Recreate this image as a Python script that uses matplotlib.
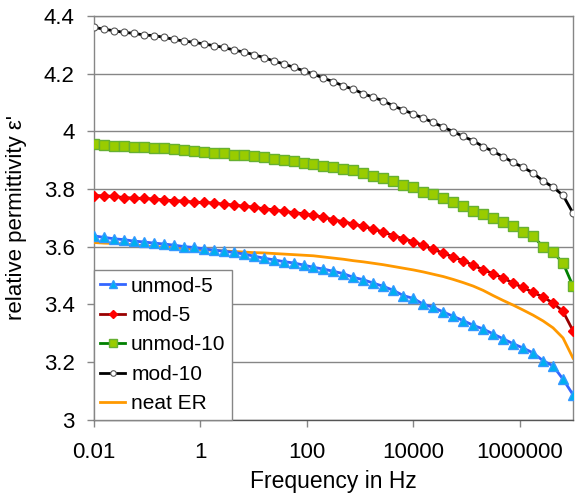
import matplotlib
matplotlib.use("Agg")
import matplotlib.pyplot as plt

plt.rcParams["font.family"] = ["Liberation Sans", "DejaVu Sans"]

# sweep frequencies (Hz), 0.01 Hz .. 10 MHz
freq_hz = [
    0.01, 0.0154, 0.0237, 0.0365, 0.0562, 0.0866, 0.133, 0.205,
    0.316, 0.487, 0.750, 1.15, 1.78, 2.74, 4.22, 6.49,
    10, 15.4, 23.7, 36.5, 56.2, 86.6, 133, 205,
    316, 487, 750, 1150, 1780, 2740, 4220, 6490,
    1e4, 1.54e4, 2.37e4, 3.65e4, 5.62e4, 8.66e4, 1.33e5, 2.05e5,
    3.16e5, 4.87e5, 7.50e5, 1.15e6, 1.78e6, 2.74e6, 4.22e6, 6.49e6,
    1e7,
]

unmod_5 = [
    3.637, 3.632, 3.627, 3.624, 3.619, 3.616, 3.612, 3.609,
    3.605, 3.600, 3.597, 3.592, 3.588, 3.584, 3.580, 3.574,
    3.567, 3.560, 3.554, 3.548, 3.543, 3.536, 3.528, 3.522,
    3.514, 3.506, 3.493, 3.485, 3.473, 3.462, 3.448, 3.430,
    3.420, 3.400, 3.389, 3.373, 3.358, 3.343, 3.327, 3.314,
    3.297, 3.280, 3.263, 3.248, 3.231, 3.204, 3.186, 3.140,
    3.086,
]
mod_5 = [
    3.777, 3.776, 3.774, 3.770, 3.768, 3.767, 3.765, 3.762,
    3.759, 3.758, 3.754, 3.753, 3.751, 3.747, 3.744, 3.740,
    3.737, 3.731, 3.728, 3.722, 3.718, 3.714, 3.708, 3.702,
    3.693, 3.686, 3.678, 3.670, 3.661, 3.650, 3.638, 3.627,
    3.617, 3.604, 3.591, 3.577, 3.564, 3.551, 3.535, 3.520,
    3.506, 3.491, 3.473, 3.458, 3.441, 3.425, 3.404, 3.375,
    3.308,
]
unmod_10 = [
    3.956, 3.953, 3.950, 3.950, 3.947, 3.945, 3.941, 3.941,
    3.938, 3.934, 3.932, 3.929, 3.926, 3.923, 3.919, 3.916,
    3.913, 3.911, 3.905, 3.902, 3.897, 3.891, 3.887, 3.881,
    3.876, 3.870, 3.864, 3.855, 3.846, 3.837, 3.826, 3.815,
    3.805, 3.791, 3.783, 3.768, 3.755, 3.741, 3.725, 3.714,
    3.699, 3.684, 3.670, 3.652, 3.635, 3.600, 3.580, 3.543,
    3.463,
]
mod_10 = [
    4.361, 4.354, 4.349, 4.343, 4.340, 4.334, 4.332, 4.326,
    4.319, 4.313, 4.309, 4.303, 4.297, 4.291, 4.282, 4.275,
    4.266, 4.256, 4.244, 4.234, 4.222, 4.210, 4.199, 4.184,
    4.172, 4.157, 4.146, 4.130, 4.118, 4.105, 4.088, 4.074,
    4.060, 4.045, 4.031, 4.014, 3.999, 3.982, 3.967, 3.947,
    3.930, 3.912, 3.892, 3.875, 3.855, 3.828, 3.806, 3.778,
    3.716,
]
neat_er = [
    3.614, 3.612, 3.611, 3.609, 3.606, 3.603, 3.600, 3.598,
    3.596, 3.594, 3.591, 3.589, 3.587, 3.585, 3.583, 3.581,
    3.579, 3.578, 3.576, 3.574, 3.572, 3.570, 3.568, 3.564,
    3.560, 3.556, 3.551, 3.547, 3.542, 3.537, 3.531, 3.525,
    3.519, 3.512, 3.504, 3.496, 3.486, 3.475, 3.463, 3.448,
    3.430, 3.413, 3.397, 3.380, 3.362, 3.342, 3.318, 3.283,
    3.213,
]

xticks = [0.01, 1, 100, 10000, 1000000]
xtick_labels = ["0.01", "1", "100", "10000", "1000000"]
yticks = [3.0, 3.2, 3.4, 3.6, 3.8, 4.0, 4.2, 4.4]
ytick_labels = ["3", "3.2", "3.4", "3.6", "3.8", "4", "4.2", "4.4"]

grey = "#868686"

fig = plt.figure(figsize=(5.76, 5.0), dpi=100)
ax = fig.add_axes([0.1632, 0.161, 0.8316, 0.807])

lw = 2.0
h1, = ax.plot(freq_hz, unmod_5, color="#3366ff", lw=lw, marker="^", ms=7,
              mfc="#00b0f0", mec="#3399ff", mew=1, zorder=5, label="unmod-5")
h2, = ax.plot(freq_hz, mod_5, color="#990000", lw=lw, marker="D", ms=5,
              mfc="#ff0000", mec="#ff0000", mew=1, zorder=5, label="mod-5")
h3, = ax.plot(freq_hz, unmod_10, color="#008000", lw=lw, marker="s", ms=6.5,
              mfc="#99cc00", mec="#66b032", mew=1, zorder=5, label="unmod-10")
h4, = ax.plot(freq_hz, mod_10, color="black", lw=lw, marker="o", ms=5,
              mfc="white", mec="#555555", mew=0.8, zorder=5, label="mod-10")
h5, = ax.plot(freq_hz, neat_er, color="#ff9900", lw=lw, zorder=4, label="neat ER")

ax.set_xscale("log")
ax.set_xlim(0.01, 1e7)
ax.set_ylim(3.0, 4.4)
ax.set_xticks(xticks)
ax.set_xticklabels(xtick_labels)
ax.xaxis.set_minor_locator(matplotlib.ticker.NullLocator())
ax.set_yticks(yticks)
ax.set_yticklabels(ytick_labels)

ax.yaxis.grid(True, color=grey, lw=1.0)
ax.set_axisbelow(True)
for side in ["left", "right", "top", "bottom"]:
    ax.spines[side].set_color(grey)
    ax.spines[side].set_linewidth(1.0)
ax.spines["bottom"].set_color("#555555")

ax.tick_params(axis="both", direction="out", length=5, width=1, color=grey,
               labelsize=16)
ax.tick_params(axis="x", pad=11.5)
ax.tick_params(axis="y", pad=9)

ax.set_xlabel("Frequency in Hz", fontsize=16.5)
ax.set_ylabel("relative permittivity ε'", fontsize=16)
ax.xaxis.set_label_coords(0.5, -0.126)
ax.yaxis.set_label_coords(-0.14, 0.5)

leg = ax.legend(handles=[h1, h2, h3, h4, h5], loc="lower left",
                bbox_to_anchor=(0.0, 0.0), borderaxespad=0, fontsize=15,
                numpoints=1, handlelength=1.2, handletextpad=0.28,
                labelspacing=0.5, borderpad=0.3, fancybox=False,
                framealpha=1, edgecolor=grey, markerscale=0.8)
leg.get_frame().set_linewidth(1.0)
leg.set_zorder(10)

fig.savefig("out.png", dpi=100)
